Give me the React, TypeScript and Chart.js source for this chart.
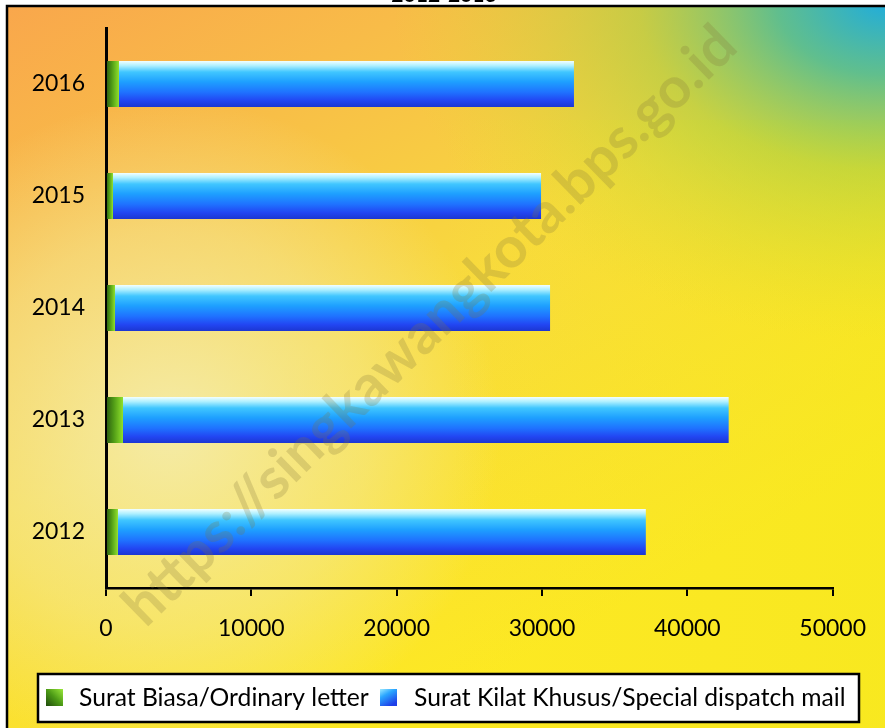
import React, { useEffect, useRef } from "react";
import { Chart, registerables } from "chart.js";

Chart.register(...registerables);

const TITLE = "2012-2016";
const WATERMARK = "https://singkawangkota.bps.go.id";
const YEARS = ["2016", "2015", "2014", "2013", "2012"];
const SERIES_NAMES = ["Surat Biasa/Ordinary letter", "Surat Kilat Khusus/Special dispatch mail"];
const ORDINARY = [890, 480, 620, 1170, 820];
const SPECIAL = [31310, 29455, 29935, 41675, 36325];
const X_MIN = 0;
const X_MAX = 50000;
const X_STEP = 10000;

const FONT = "Lato, 'Open Sans', sans-serif";

function greenFill(ctx: any) {
  const chart = ctx.chart;
  if (!chart.chartArea || ctx.type !== "data") return "#4a9a18";
  const xs = chart.scales.x;
  const x0 = xs.getPixelForValue(0);
  const x1 = xs.getPixelForValue(ORDINARY[ctx.dataIndex]);
  const g = chart.ctx.createLinearGradient(x0, 0, x1, 0);
  g.addColorStop(0, "#2a5a10");
  g.addColorStop(0.45, "#4f9a16");
  g.addColorStop(1, "#8fe02c");
  return g;
}

function blueFill(ctx: any) {
  const chart = ctx.chart;
  if (!chart.chartArea || ctx.type !== "data") return "#1e90ff";
  const ys = chart.scales.y;
  const yc = ys.getPixelForValue(ctx.dataIndex);
  const h = 23;
  const g = chart.ctx.createLinearGradient(0, yc - h, 0, yc + h);
  g.addColorStop(0, "#f2ffff");
  g.addColorStop(0.1, "#b0f0ff");
  g.addColorStop(0.24, "#40c6ff");
  g.addColorStop(0.45, "#1ea0ff");
  g.addColorStop(0.68, "#1f72ff");
  g.addColorStop(0.86, "#2246f2");
  g.addColorStop(1, "#1c36d2");
  return g;
}

const backgroundPlugin = {
  id: "bgFrame",
  beforeDraw(chart: any) {
    const c = chart.ctx;
    const W = chart.width;
    const H = chart.height;
    c.save();
    c.fillStyle = "#ffffff";
    c.fillRect(0, 0, W, H);
    c.fillStyle = "#000";
    c.font = `bold 21px ${FONT}`;
    c.textAlign = "center";
    c.textBaseline = "alphabetic";
    c.fillText(TITLE, 444, 2);
    const fx = 7, fy = 6;
    c.beginPath();
    c.rect(fx, fy, W + 20, H + 20);
    c.clip();
    const base = c.createLinearGradient(0, 0, W * 0.45, H);
    base.addColorStop(0, "#f9a64c");
    base.addColorStop(0.25, "#f8bc48");
    base.addColorStop(0.55, "#f8d93e");
    base.addColorStop(1, "#fde922");
    c.fillStyle = base;
    c.fillRect(0, 0, W, H);
    let lg = c.createLinearGradient(W * 0.5, 0, W, 0);
    lg.addColorStop(0, "rgba(245,228,40,0)");
    lg.addColorStop(1, "rgba(245,232,30,0.6)");
    c.fillStyle = lg;
    c.fillRect(0, 120, W, H);
    let r = c.createRadialGradient(170, 430, 0, 170, 430, 330);
    r.addColorStop(0, "rgba(244,238,185,0.85)");
    r.addColorStop(0.6, "rgba(244,236,170,0.45)");
    r.addColorStop(1, "rgba(244,236,170,0)");
    c.fillStyle = r;
    c.fillRect(0, 0, W, H);
    // teal/green corner top-right, stretched along the top
    c.save();
    c.translate(W, 0);
    c.scale(1.45, 1);
    r = c.createRadialGradient(0, 0, 0, 0, 0, 340);
    r.addColorStop(0, "rgba(30,172,222,1)");
    r.addColorStop(0.22, "rgba(80,188,150,0.9)");
    r.addColorStop(0.5, "rgba(160,205,70,0.55)");
    r.addColorStop(1, "rgba(220,220,50,0)");
    c.fillStyle = r;
    c.fillRect(-700, 0, 700, 400);
    c.restore();
    c.restore();
    c.save();
    c.strokeStyle = "#000";
    c.lineWidth = 2.5;
    c.strokeRect(fx, fy, W + 20, H + 20);
    c.restore();
  },
  afterDraw(chart: any) {
    const c = chart.ctx;
    c.save();
    c.translate(430, 326);
    c.rotate(-Math.atan2(595, 610));
    let size = 48;
    c.font = `bold ${size}px ${FONT}`;
    const m = c.measureText(WATERMARK).width;
    size = size * 830 / m;
    c.font = `bold ${size}px ${FONT}`;
    c.fillStyle = "rgba(130,115,60,0.24)";
    c.textAlign = "center";
    c.textBaseline = "middle";
    c.fillText(WATERMARK, 0, 0);
    c.restore();

    c.save();
    c.fillStyle = "#fff";
    c.fillRect(38, 674, 821, 48);
    c.strokeStyle = "#000";
    c.lineWidth = 2.5;
    c.strokeRect(38, 674, 821, 48);
    const names = chart.data.datasets.map((d: any) => d.label);
    const sw = [46, 380];
    const tx = [79, 414];
    const sy = 689;
    let g = c.createLinearGradient(sw[0], sy + 17, sw[0] + 17, sy);
    g.addColorStop(0, "#1f4a0c");
    g.addColorStop(0.5, "#4c9a16");
    g.addColorStop(1, "#9ae83a");
    c.fillStyle = g;
    c.fillRect(sw[0], sy, 17, 17);
    g = c.createLinearGradient(sw[1], sy, sw[1] + 10, sy + 17);
    g.addColorStop(0, "#9eeaff");
    g.addColorStop(0.4, "#2aa6ff");
    g.addColorStop(1, "#1e3ee8");
    c.fillStyle = g;
    c.fillRect(sw[1], sy, 17, 17);
    c.fillStyle = "#000";
    let fs = 21;
    c.font = `${fs}px ${FONT}`;
    const w1 = c.measureText(names[0]).width;
    fs = fs * 290 / w1;
    c.font = `${fs}px ${FONT}`;
    c.textAlign = "left";
    c.textBaseline = "middle";
    names.forEach((n: string, i: number) => c.fillText(n, tx[i], 698));
    c.restore();
  },
};

export default function App() {
  const ref = useRef<HTMLCanvasElement | null>(null);
  useEffect(() => {
    if (!ref.current) return;
    const chart = new Chart(ref.current, {
      type: "bar",
      data: {
        labels: YEARS,
        datasets: [
          {
            label: SERIES_NAMES[0],
            data: ORDINARY,
            backgroundColor: greenFill as any,
            borderWidth: 0,
            categoryPercentage: 1,
            barPercentage: 0.41,
          },
          {
            label: SERIES_NAMES[1],
            data: SPECIAL,
            backgroundColor: blueFill as any,
            borderWidth: 0,
            categoryPercentage: 1,
            barPercentage: 0.41,
          },
        ],
      },
      options: {
        indexAxis: "y",
        responsive: false,
        animation: false,
        devicePixelRatio: 1,
        layout: { padding: { top: 28, right: 51, left: 0, bottom: 0 } },
        plugins: {
          legend: { display: false },
          title: { display: false },
          tooltip: { enabled: false },
        },
        scales: {
          x: {
            stacked: true,
            min: X_MIN,
            max: X_MAX,
            afterFit: (s: any) => {
              s.height = 140;
            },
            ticks: {
              stepSize: X_STEP,
              color: "#000",
              font: { family: FONT, size: 23 },
              padding: 19,
              maxRotation: 0,
              callback: (v: any) => String(v),
            },
            grid: {
              display: true,
              drawOnChartArea: false,
              drawTicks: true,
              tickLength: 8,
              color: "#000",
              lineWidth: 2,
            },
            border: { display: true, color: "#000", width: 2.5 },
          },
          y: {
            stacked: true,
            afterFit: (s: any) => {
              s.width = 106;
              s.paddingTop = 0;
              s.paddingBottom = 0;
            },
            ticks: {
              color: "#000",
              font: { family: FONT, size: 23 },
              padding: 21,
            },
            grid: {
              display: true,
              drawOnChartArea: false,
              drawTicks: false,
              color: "#000",
            },
            border: { display: true, color: "#000", width: 3 },
          },
        },
      },
      plugins: [backgroundPlugin],
    });
    return () => chart.destroy();
  }, []);
  return (
    <div style={{ position: "absolute", left: 0, top: 0, width: 885, height: 728 }}>
      <canvas ref={ref} width={885} height={728} style={{ display: "block", width: 885, height: 728 }} />
    </div>
  );
}
